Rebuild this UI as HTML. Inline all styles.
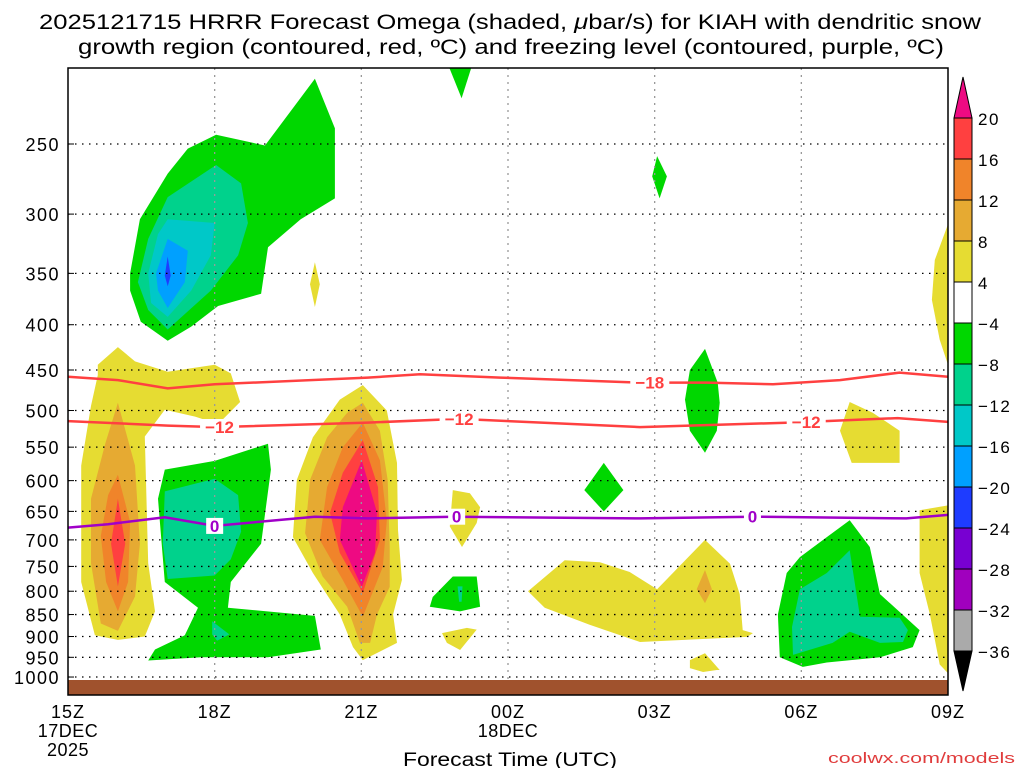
<!DOCTYPE html>
<html><head><meta charset="utf-8"><style>
body{margin:0;background:#fff;}
svg{display:block;font-family:"Liberation Sans",sans-serif;}
</style></head><body>
<svg id="chart" width="1024" height="768" viewBox="0 0 1024 768" xmlns="http://www.w3.org/2000/svg">
<text x="510" y="29" font-size="21" text-anchor="middle" textLength="942" lengthAdjust="spacingAndGlyphs">2025121715 HRRR Forecast Omega (shaded, <tspan font-style="italic">μ</tspan>bar/s) for KIAH with dendritic snow</text>
<text x="511" y="54" font-size="21" text-anchor="middle" textLength="866" lengthAdjust="spacingAndGlyphs">growth region (contoured, red, ºC) and freezing level (contoured, purple, ºC)</text>
<g id="fills"></g>
<g id="grid"></g>
<rect x="68" y="680" width="880" height="15" fill="#a0522d"/>
<g id="lines"></g>
<rect x="68" y="68" width="880" height="627" fill="none" stroke="#000" stroke-width="1.5"/>
<g id="yaxis"></g>
<g id="xaxis"></g>
<text x="510" y="766" font-size="19" text-anchor="middle" textLength="214" lengthAdjust="spacingAndGlyphs">Forecast Time (UTC)</text>
<text x="1015" y="763" font-size="15" fill="#e03c3c" text-anchor="end" textLength="187" lengthAdjust="spacingAndGlyphs">coolwx.com/models</text>
<g id="cbar"></g>
</svg>
<script>
const pLevels=[250,300,350,400,450,500,550,600,650,700,750,800,850,900,950,1000];
const xTickHours=[0,3,6,9,12,15,18];
const xTickLabels=["15Z","18Z","21Z","00Z","03Z","06Z","09Z"];
const cbLevels=[20,16,12,8,4,-4,-8,-12,-16,-20,-24,-28,-32,-36];
const cbColors=["#ff4040","#f0842a","#e6aa32","#e6dc32","#ffffff","#00d700","#00d28c","#00c8c8","#00a0ff","#1e3cff","#7800d2","#a000be","#aaaaaa"];
const C={mag:"#ee0a82",red:"#ff4040",ora:"#f0842a",gold:"#e6aa32",yel:"#e6dc32",grn:"#00d700",teal:"#00d28c",cyan:"#00c8c8",lblue:"#00a0ff",blue:"#1e3cff"};
const blobs=[
["grn",[[1.27,350],[1.47,304],[2.04,270],[2.45,253],[3.03,244],[4.03,251],[5.05,211],[5.46,240],[5.46,288],[4.76,304],[4.09,327],[3.95,369],[3.07,381],[2.52,402],[2.04,417],[1.49,397],[1.27,366]]],
["teal",[[1.43,358],[1.64,320],[2.04,287],[3.03,264],[3.54,277],[3.68,307],[3.48,334],[2.92,366],[2.04,405],[1.64,385]]],
["cyan",[[1.64,350],[1.84,316],[2.04,304],[3.0,307],[2.92,334],[2.52,366],[2.04,392],[1.70,378]]],
["lblue",[[1.80,350],[2.04,320],[2.45,330],[2.39,358],[2.04,383],[1.84,366]]],
["blue",[[1.98,352],[2.04,335],[2.1,352],[2.04,362]]],
["yel",[[5.05,340],[5.15,360],[5.05,382],[4.95,360]]],
["yel",[[0.61,444],[1.02,424],[1.37,440],[2.04,452],[3.0,444],[3.33,454],[3.52,489],[3.07,518],[2.6,508],[1.98,499],[1.57,535],[1.64,744],[1.78,843],[1.57,900],[1.02,908],[0.55,897],[0.27,781],[0.27,577],[0.47,494],[0.61,456]]],
["gold",[[1.02,490],[1.37,577],[1.47,707],[1.37,811],[1.02,887],[0.67,870],[0.47,744],[0.47,629],[0.76,545]]],
["ora",[[1.02,591],[1.27,668],[1.23,781],[1.02,843],[0.78,781],[0.67,693],[0.82,623]]],
["red",[[1.02,629],[1.17,707],[1.02,790],[0.88,707]]],
["grn",[[1.98,583],[3.0,570],[4.09,545],[4.15,583],[3.95,707],[3.33,781],[3.27,835],[5.05,853],[5.17,931],[4.09,950],[2.72,950],[1.64,958],[1.78,931],[2.39,897],[2.66,835],[1.98,781],[1.84,629]]],
["teal",[[1.98,617],[3.0,597],[3.48,623],[3.54,685],[3.33,736],[3.0,768],[2.04,775],[1.94,707]]],
["teal",[[2.95,865],[3.3,895],[3.05,910],[2.95,895]]],
["yel",[[6.03,468],[6.52,500],[6.73,573],[6.75,682],[6.83,777],[6.65,850],[6.73,915],[6.03,957],[5.83,925],[5.56,850],[5.01,763],[4.6,695],[4.68,599],[5.01,536],[5.56,486]]],
["gold",[[6.03,490],[6.38,527],[6.54,599],[6.58,713],[6.58,791],[6.32,850],[6.18,915],[5.97,915],[5.71,833],[5.21,770],[4.85,688],[4.95,599],[5.3,536],[5.71,503]]],
["ora",[[6.03,516],[6.38,569],[6.52,665],[6.44,751],[6.03,855],[5.62,777],[5.15,700],[5.3,610],[5.62,550]]],
["red",[[6.03,540],[6.34,610],[6.38,700],[6.03,804],[5.56,724],[5.36,652],[5.62,588]]],
["mag",[[6.01,569],[6.32,652],[6.28,724],[6.01,791],[5.56,700],[5.62,643]]],
["yel",[[7.87,615],[8.22,620],[8.43,643],[8.36,670],[8.06,713],[7.81,676]]],
["grn",[[7.46,812],[7.87,770],[8.36,770],[8.43,833],[8.02,843],[7.4,833]]],
["teal",[[7.97,790],[8.07,790],[8.05,822],[8.0,822]]],
["yel",[[7.65,892],[8.16,880],[8.36,884],[8.02,932],[7.75,915]]],
["grn",[[7.8,205],[8.25,205],[8.05,222]]],
["grn",[[12.05,258],[12.25,272],[12.1,288],[11.95,272]]],
["grn",[[10.96,573],[11.36,615],[10.96,650],[10.56,615]]],
["grn",[[13.03,426],[13.29,465],[13.33,490],[13.27,527],[13.03,558],[12.72,527],[12.62,486],[12.72,450]]],
["yel",[[15.99,489],[16.46,503],[17.01,527],[17.01,573],[16.03,573],[15.79,527]]],
["yel",[[9.41,800],[10.16,738],[10.88,742],[11.49,761],[12.05,796],[13.03,700],[13.54,745],[13.74,806],[13.8,885],[14.01,892],[13.89,901],[11.7,913],[10.67,873],[9.75,835]]],
["gold",[[13.03,757],[13.17,796],[13.03,825],[12.86,796]]],
["yel",[[12.72,957],[13.03,940],[13.33,982],[13.27,982],[12.99,987],[12.72,977]]],
["grn",[[15.99,665],[16.4,713],[16.61,806],[17.42,885],[17.28,925],[16.61,950],[15.52,963],[15.03,974],[14.56,950],[14.52,850],[14.7,763],[14.97,732],[15.52,695]]],
["teal",[[15.99,719],[16.2,855],[17.01,857],[17.18,885],[17.08,913],[16.61,915],[15.99,889],[15.64,915],[14.83,944],[14.81,878],[14.97,796],[15.52,763]]],
["yel",[[18,308],[17.73,338],[17.67,375],[17.83,416],[18,444]]],
["yel",[[17.42,648],[18,640],[18,990],[17.83,968],[17.63,850],[17.42,763]]]
];
const t18Hours=[0,1.02,2.04,3.0,6.13,7.2,8.84,11.7,13.07,14.42,15.79,17.01,18];
const t18Press=[458,462,472,467,459,455,459,465,465,467,462,453,458];
const t12Hours=[0,2.04,3.05,6.13,8.0,11.7,14.77,16.97,18];
const t12Press=[514,520,522,516,511,522,516,510,515];
const t0Hours=[0,0.82,1.98,3.0,5.05,6.13,7.9,11.7,14.01,17.15,18];
const t0Press=[678,672,660,675,659,662,659,662,659,662,656];
const t18Labels=[11.9];
const t12Labels=[3.1,8.0,15.1];
const t0Labels=[3.0,7.95,14.0];

const NS="http://www.w3.org/2000/svg";
const X=h=>68+h*(880/18);
const Y=p=>144+384.5*Math.log(p/250);
function mk(tag,attrs,parent){const e=document.createElementNS(NS,tag);for(const k in attrs)e.setAttribute(k,attrs[k]);parent.appendChild(e);return e;}
const fills=document.getElementById('fills');
blobs.forEach(b=>{
  const e=mk('polygon',{points:b[1].map(q=>X(q[0]).toFixed(1)+','+Y(q[1]).toFixed(1)).join(' '),fill:C[b[0]]},fills);
  
  
});
const grid=document.getElementById('grid');
pLevels.forEach(p=>{
  const e=mk('line',{x1:68,x2:948,y1:Y(p),y2:Y(p),stroke:'#000','stroke-width':1.3,'stroke-dasharray':'1.5 5.5'},grid);
  
  
});
xTickHours.slice(1,-1).forEach(h=>{
  const e=mk('line',{x1:X(h),x2:X(h),y1:68,y2:695,stroke:'#999','stroke-width':1.3,'stroke-dasharray':'2 5'},grid);
  
  
});
const lines=document.getElementById('lines');
function contour(hs,ps,color,labels,txt,name){
  const e=mk('polyline',{points:hs.map((h,i)=>X(h).toFixed(1)+','+Y(ps[i]).toFixed(1)).join(' '),fill:'none',stroke:color,'stroke-width':2.5},lines);
  
  
  labels.forEach(h=>{
    let i=0;while(i<hs.length-2&&hs[i+1]<h)i++;
    const f=(h-hs[i])/(hs[i+1]-hs[i]);const p=ps[i]+f*(ps[i+1]-ps[i]);
    const w=txt.length*11+6;
    const r=mk('rect',{x:X(h)-w/2,y:Y(p)-8,width:w,height:16,fill:'#fff'},lines);
    
    
    const t=mk('text',{x:X(h),y:Y(p)+6,'font-size':17,'font-weight':'bold',fill:color,'text-anchor':'middle'},lines);
    
    
    t.textContent=txt;
  });
}
contour(t18Hours,t18Press,'#ff4040',t18Labels,'−18','contour-minus18');
contour(t12Hours,t12Press,'#ff4040',t12Labels,'−12','contour-minus12');
contour(t0Hours,t0Press,'#a000c8',t0Labels,'0','contour-freezing');
const ya=document.getElementById('yaxis');
pLevels.forEach(p=>{
  const t=mk('text',{x:60,y:Y(p)+7,'font-size':18,'letter-spacing':1.5,'text-anchor':'end'},ya);
  
  
  t.textContent=p;
  const k=mk('line',{x1:68,x2:74,y1:Y(p),y2:Y(p),stroke:'#000'},ya);
  
  
});
const xa=document.getElementById('xaxis');
xTickHours.forEach((h,i)=>{
  const t=mk('text',{x:X(h),y:718,'font-size':18,'letter-spacing':1,'text-anchor':'middle'},xa);
  
  
  t.textContent=xTickLabels[i];
});
[["17DEC",X(0),737],["2025",X(0),756],["18DEC",X(9),737]].forEach(a=>{
  const t=mk('text',{x:a[1],y:a[2],'font-size':18,'letter-spacing':0.5,'text-anchor':'middle'},xa);
  
  
  t.textContent=a[0];
});
const cb=document.getElementById('cbar');
const cbTop=118,cbStep=41.0;
cbColors.forEach((c,i)=>{
  const r=mk('rect',{x:954,y:cbTop+i*cbStep,width:18,height:cbStep,fill:c,stroke:'#000','stroke-width':1},cb);
  
  
});
const up=mk('polygon',{points:'954,118 972,118 963,77',fill:'#ee0a82',stroke:'#000'},cb);


const dn=mk('polygon',{points:'954,651 972,651 963,691',fill:'#000',stroke:'#000'},cb);


cbLevels.forEach((v,i)=>{
  const t=mk('text',{x:978,y:cbTop+i*cbStep+7,'font-size':17,'letter-spacing':1.5},cb);
  
  
  t.textContent=v<0?'−'+(-v):String(v);
});
</script>
</body></html>
